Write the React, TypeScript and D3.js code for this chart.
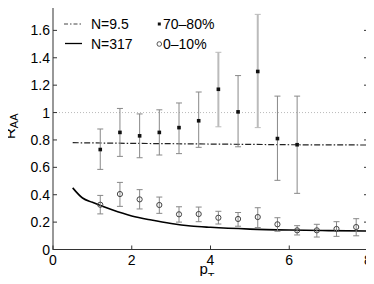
import React, { useEffect, useRef } from 'react';
import * as d3 from 'd3';

// 70-80% centrality (filled markers)
const periphPt = [1.2, 1.7, 2.2, 2.7, 3.2, 3.7, 4.2, 4.7, 5.2, 5.7, 6.2];
const periphR = [0.73, 0.855, 0.83, 0.855, 0.89, 0.94, 1.17, 1.005, 1.3, 0.81, 0.765];
const periphLo = [0.585, 0.68, 0.67, 0.69, 0.70, 0.746, 0.896, 0.75, 0.89, 0.505, 0.41];
const periphHi = [0.88, 1.03, 0.99, 1.02, 1.07, 1.15, 1.44, 1.27, 1.717, 1.12, 1.12];
const periphLight = [false, false, false, false, false, false, true, false, true, false, false];

// 0-10% centrality (open markers)
const centralPt = [1.2, 1.7, 2.2, 2.7, 3.2, 3.7, 4.2, 4.7, 5.2, 5.7, 6.2, 6.7, 7.2, 7.7];
const centralR = [0.327, 0.405, 0.366, 0.325, 0.257, 0.259, 0.232, 0.223, 0.237, 0.184, 0.14, 0.14, 0.15, 0.164];
const centralLo = [0.26, 0.315, 0.296, 0.264, 0.2, 0.203, 0.186, 0.17, 0.16, 0.133, 0.106, 0.091, 0.096, 0.1];
const centralHi = [0.395, 0.49, 0.437, 0.383, 0.312, 0.31, 0.279, 0.27, 0.305, 0.232, 0.174, 0.184, 0.203, 0.225];

// model curves
const n317Pt = [0.5, 0.75, 1.0, 1.5, 2.0, 2.5, 3.0, 3.5, 4.0, 5.0, 6.0, 7.0, 8.0];
const n317R = [0.45, 0.376, 0.345, 0.29, 0.245, 0.215, 0.19, 0.172, 0.162, 0.149, 0.142, 0.138, 0.135];
const n95Pt = [0.5, 2, 4, 6, 8];
const n95R = [0.78, 0.775, 0.77, 0.765, 0.763];

const xTicks = [0, 2, 4, 6, 8];
const yTicks = [0, 0.2, 0.4, 0.6, 0.8, 1, 1.2, 1.4, 1.6];

const App: React.FC = () => {
  const svgRef = useRef<SVGSVGElement | null>(null);

  useEffect(() => {
    if (!svgRef.current) return;
    const W = 374, H = 284;
    const left = 53, right = 368, top = 3, bottom = 249.5;
    const font = "'Liberation Sans', Arial, Helvetica, sans-serif";

    const svg = d3.select(svgRef.current);
    svg.selectAll("*").remove();
    svg.attr("width", W).attr("height", H).style("display", "block");

    svg.append("rect").attr("width", W).attr("height", H).attr("fill", "#fff");

    const x = d3.scaleLinear().domain([0, 8]).range([left, right]);
    const y = d3.scaleLinear().domain([0, 1.8]).range([bottom, top]);

    // reference line at 1
    svg.append("line")
      .attr("x1", left).attr("x2", right)
      .attr("y1", y(1)).attr("y2", y(1))
      .attr("stroke", "#aaa").attr("stroke-width", 0.8)
      .attr("stroke-dasharray", "1,2");

    const curve = d3.line<[number, number]>().x(d => x(d[0])).y(d => y(d[1]));

    // N=9.5 dash-dot
    svg.append("path")
      .datum(n95Pt.map((p, i) => [p, n95R[i]] as [number, number]))
      .attr("d", curve)
      .attr("fill", "none").attr("stroke", "#222").attr("stroke-width", 1.2)
      .attr("stroke-dasharray", "6,2,1.5,2");

    // N=317 solid
    svg.append("path")
      .datum(n317Pt.map((p, i) => [p, n317R[i]] as [number, number]))
      .attr("d", curve.curve(d3.curveMonotoneX))
      .attr("fill", "none").attr("stroke", "#000").attr("stroke-width", 1.6);

    const drawBars = (pts: number[], lo: number[], hi: number[], light: boolean[] | null) => {
      pts.forEach((p, i) => {
        const isLight = light ? light[i] : false;
        const col = isLight ? "#bbb" : "#888";
        const sw = isLight ? 2 : 1;
        const g = svg.append("g").attr("stroke", col).attr("stroke-width", sw);
        g.append("line").attr("x1", x(p)).attr("x2", x(p)).attr("y1", y(lo[i])).attr("y2", y(hi[i]));
        g.append("line").attr("x1", x(p) - 3).attr("x2", x(p) + 3).attr("y1", y(lo[i])).attr("y2", y(lo[i])).attr("stroke-width", 1);
        g.append("line").attr("x1", x(p) - 3).attr("x2", x(p) + 3).attr("y1", y(hi[i])).attr("y2", y(hi[i])).attr("stroke-width", 1);
      });
    };

    drawBars(periphPt, periphLo, periphHi, periphLight);
    drawBars(centralPt, centralLo, centralHi, null);

    svg.append("g").selectAll("rect")
      .data(periphPt)
      .enter()
      .append("rect")
      .attr("x", d => x(d) - 1.8)
      .attr("y", (_, i) => y(periphR[i]) - 1.8)
      .attr("width", 3.6).attr("height", 3.6)
      .attr("fill", "#111");

    svg.append("g").selectAll("circle")
      .data(centralPt)
      .enter()
      .append("circle")
      .attr("cx", d => x(d))
      .attr("cy", (_, i) => y(centralR[i]))
      .attr("r", 2.6)
      .attr("fill", "none").attr("stroke", "#444").attr("stroke-width", 1);

    // box
    svg.append("rect")
      .attr("x", left).attr("y", top)
      .attr("width", right - left).attr("height", bottom - top)
      .attr("fill", "none").attr("stroke", "#333").attr("stroke-width", 1);

    // ticks (inward on all sides)
    const tk = svg.append("g").attr("stroke", "#333").attr("stroke-width", 1);
    xTicks.forEach(t => {
      tk.append("line").attr("x1", x(t)).attr("x2", x(t)).attr("y1", bottom).attr("y2", bottom - 4);
      tk.append("line").attr("x1", x(t)).attr("x2", x(t)).attr("y1", top).attr("y2", top + 4);
    });
    yTicks.forEach(t => {
      tk.append("line").attr("x1", left).attr("x2", left + 4).attr("y1", y(t)).attr("y2", y(t));
      tk.append("line").attr("x1", right).attr("x2", right - 4).attr("y1", y(t)).attr("y2", y(t));
    });

    svg.append("g").selectAll("text")
      .data(xTicks)
      .enter()
      .append("text")
      .attr("x", d => x(d))
      .attr("y", 265)
      .attr("text-anchor", "middle")
      .attr("font-family", font).attr("font-size", 14).attr("fill", "#000")
      .text(d => d3.format("")(d));

    svg.append("g").selectAll("text")
      .data(yTicks)
      .enter()
      .append("text")
      .attr("x", 50)
      .attr("y", d => y(d))
      .attr("dy", "0.36em")
      .attr("text-anchor", "end")
      .attr("font-family", font).attr("font-size", 14).attr("fill", "#000")
      .text(d => d3.format("")(d));

    // axis labels
    const xl = svg.append("text")
      .attr("x", 207).attr("y", 273.5)
      .attr("text-anchor", "middle")
      .attr("font-family", font).attr("font-size", 15);
    xl.append("tspan").text("p");
    xl.append("tspan").attr("font-size", 11).attr("dy", 7).text("T");

    const yl = svg.append("text")
      .attr("transform", `translate(15,${(top + bottom) / 2}) rotate(-90)`)
      .attr("text-anchor", "middle")
      .attr("font-family", font).attr("font-size", 15);
    yl.append("tspan").text("R");
    yl.append("tspan").attr("font-size", 11).attr("dy", 3).text("AA");

    // legend
    const lg = svg.append("g").attr("font-family", font).attr("font-size", 14);
    lg.append("line").attr("x1", 64).attr("x2", 83).attr("y1", 24).attr("y2", 24)
      .attr("stroke", "#444").attr("stroke-width", 1).attr("stroke-dasharray", "4,2,1.5,2");
    lg.append("text").attr("x", 91).attr("y", 24).attr("dy", "0.36em").text("N=9.5");
    lg.append("line").attr("x1", 65).attr("x2", 82).attr("y1", 43.5).attr("y2", 43.5)
      .attr("stroke", "#000").attr("stroke-width", 1.3);
    lg.append("text").attr("x", 91).attr("y", 43.5).attr("dy", "0.36em").text("N=317");

    lg.append("rect").attr("x", 157.8).attr("y", 22.5).attr("width", 3).attr("height", 3).attr("fill", "#111");
    lg.append("text").attr("x", 163).attr("y", 24).attr("dy", "0.36em").text("70\u201380%");
    lg.append("circle").attr("cx", 159.3).attr("cy", 44).attr("r", 2.3)
      .attr("fill", "none").attr("stroke", "#444").attr("stroke-width", 0.9);
    lg.append("text").attr("x", 163).attr("y", 43.5).attr("dy", "0.36em").text("0\u201310%");
  }, []);

  return (
    <div style={{ margin: -8 }}>
      <svg ref={svgRef}></svg>
    </div>
  );
};

export default App;
